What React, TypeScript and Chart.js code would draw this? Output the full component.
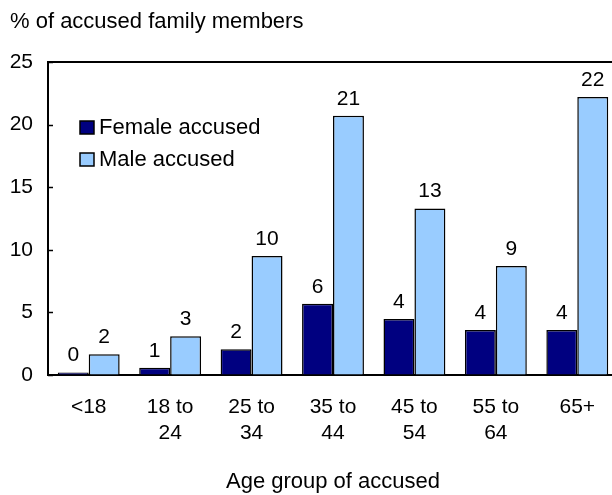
import React, { useEffect, useRef } from "react";
import { Chart, registerables } from "chart.js";
Chart.register(...registerables);

const categories = [["<18"], ["18 to", "24"], ["25 to", "34"], ["35 to", "44"], ["45 to", "54"], ["55 to", "64"], ["65+"]];
const femaleValues = [0.2, 0.58, 2.05, 5.7, 4.47, 3.6, 3.6];
const maleValues = [1.65, 3.1, 9.5, 20.7, 13.3, 8.7, 22.2];
const femaleLabels = ["0", "1", "2", "6", "4", "4", "4"];
const maleLabels = ["2", "3", "10", "21", "13", "9", "22"];
const seriesNames = ["Female accused", "Male accused"];
const yAxisTitle = "% of accused family members";
const xAxisTitle = "Age group of accused";

const FONT = "'Liberation Sans', Arial, sans-serif";
const FS = 21;

export default function App() {
  const ref = useRef<HTMLCanvasElement | null>(null);
  useEffect(() => {
    if (!ref.current) return;
    const labelsBySeries = [femaleLabels, maleLabels];
    const overlay = {
      id: "overlay",
      afterDraw(chart: any) {
        const ctx = chart.ctx;
        const ca = chart.chartArea;
        ctx.save();
        ctx.strokeStyle = "#000";
        ctx.lineWidth = 2;
        ctx.beginPath();
        ctx.moveTo(ca.left, ca.top);
        ctx.lineTo(ca.right, ca.top);
        ctx.lineTo(ca.right, ca.bottom);
        ctx.stroke();
        const y = chart.scales.y;
        ctx.lineWidth = 1.5;
        y.ticks.forEach((t: any) => {
          const py = Math.round(y.getPixelForValue(t.value)) + 0.5;
          ctx.beginPath();
          ctx.moveTo(ca.left, py);
          ctx.lineTo(ca.left + 5, py);
          ctx.stroke();
        });
        ctx.fillStyle = "#000";
        ctx.font = `${FS}px ${FONT}`;
        ctx.textAlign = "center";
        ctx.textBaseline = "alphabetic";
        chart.data.datasets.forEach((ds: any, di: number) => {
          const meta = chart.getDatasetMeta(di);
          meta.data.forEach((bar: any, i: number) => {
            ctx.fillText(labelsBySeries[di][i], bar.x, bar.y - 11);
          });
        });
        const lx = 80;
        const tops = [121, 153];
        ctx.font = `22px ${FONT}`;
        chart.data.datasets.forEach((ds: any, di: number) => {
          ctx.fillStyle = ds.backgroundColor;
          ctx.fillRect(lx, tops[di], 14, 13);
          ctx.strokeStyle = "#000";
          ctx.lineWidth = 1.5;
          ctx.strokeRect(lx, tops[di], 14, 13);
          ctx.fillStyle = "#000";
          ctx.textAlign = "left";
          ctx.fillText(ds.label, 99, tops[di] + 13);
        });
        ctx.textAlign = "left";
        ctx.fillText(yAxisTitle, 10, 28);
        ctx.restore();
      },
    };
    const chart = new Chart(ref.current, {
      type: "bar",
      data: {
        labels: categories,
        datasets: [
          { label: seriesNames[0], data: femaleValues, backgroundColor: "#000080", borderColor: "#000", borderWidth: 1.5 },
          { label: seriesNames[1], data: maleValues, backgroundColor: "#99CCFF", borderColor: "#000", borderWidth: 1.5 },
        ],
      },
      options: {
        animation: false,
        responsive: true,
        maintainAspectRatio: false,
        layout: { padding: { top: 62, right: 2, left: 0, bottom: 0 } },
        plugins: { legend: { display: false }, tooltip: { enabled: false } },
        datasets: { bar: { categoryPercentage: 0.76, barPercentage: 1 } },
        scales: {
          x: {
            grid: { display: false, drawTicks: false },
            border: { display: true, color: "#000", width: 2 },
            ticks: { color: "#000", font: { size: FS, family: FONT, lineHeight: 1.26 }, padding: 19, maxRotation: 0, autoSkip: false },
            title: { display: true, text: xAxisTitle, color: "#000", font: { size: 22, family: FONT }, padding: { top: 0, bottom: 0 } },
            afterFit(scale: any) { scale.height = 120; },
          },
          y: {
            min: 0,
            max: 25,
            grid: { drawOnChartArea: false, drawTicks: false },
            border: { display: true, color: "#000", width: 2 },
            ticks: { stepSize: 5, color: "#000", font: { size: FS, family: FONT }, padding: 15 },
            afterFit(scale: any) { scale.width = 48; },
          },
        },
      },
      plugins: [overlay],
    });
    return () => chart.destroy();
  }, []);
  return (
    <div style={{ position: "fixed", left: 0, top: 0, width: 612, height: 495, overflow: "hidden", background: "#fff" }}>
      <div style={{ position: "relative", width: 620, height: 495 }}>
        <canvas ref={ref} />
      </div>
    </div>
  );
}
